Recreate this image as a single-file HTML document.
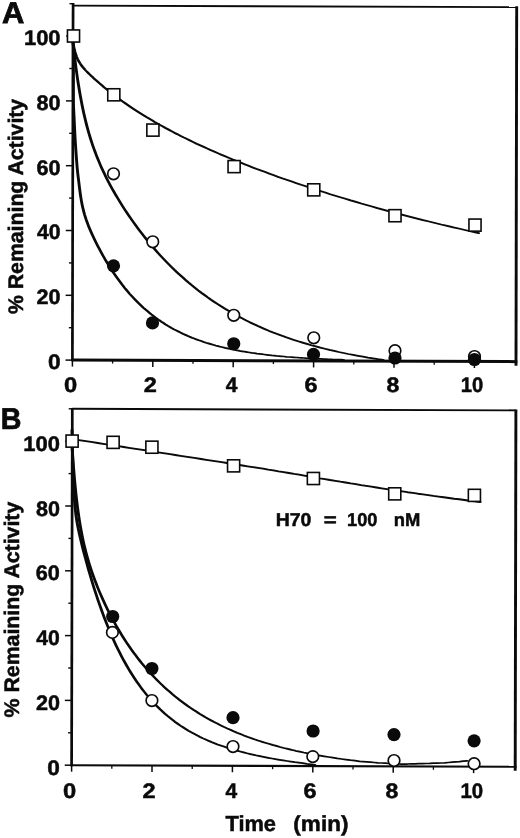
<!DOCTYPE html>
<html lang="en">
<head>
<meta charset="utf-8">
<title>Figure: % Remaining Activity vs Time</title>
<style>
html,body{margin:0;padding:0;background:#fff;}
body{width:520px;height:838px;overflow:hidden;}
svg{display:block;}
text{text-rendering:geometricPrecision;font-family:"Liberation Sans",Arial,Helvetica,sans-serif;font-weight:bold;fill:#0a0a0a;}
</style>
</head>
<body>
<svg width="520" height="838" viewBox="0 0 520 838">
<rect width="520" height="838" fill="#fff"/>
<g stroke="#0a0a0a" fill="none" stroke-linecap="butt">
<line x1="73.09" y1="3.10" x2="72.40" y2="361.10" stroke-width="2.7"/>
<line x1="71.40" y1="360.10" x2="517.30" y2="361.65" stroke-width="3.0"/>
<line x1="73.09" y1="5.60" x2="516.69" y2="7.15" stroke-width="1.8"/>
<line x1="516.69" y1="6.35" x2="516.00" y2="365.65" stroke-width="2.9"/>
<line x1="65.50" y1="360.10" x2="72.40" y2="360.10" stroke-width="1.5"/>
<line x1="68.86" y1="327.70" x2="72.46" y2="327.70" stroke-width="1.4"/>
<line x1="65.62" y1="295.30" x2="72.52" y2="295.30" stroke-width="1.5"/>
<line x1="68.99" y1="262.90" x2="72.59" y2="262.90" stroke-width="1.4"/>
<line x1="65.75" y1="230.50" x2="72.65" y2="230.50" stroke-width="1.5"/>
<line x1="69.11" y1="198.10" x2="72.71" y2="198.10" stroke-width="1.4"/>
<line x1="65.88" y1="165.70" x2="72.78" y2="165.70" stroke-width="1.5"/>
<line x1="69.24" y1="133.30" x2="72.84" y2="133.30" stroke-width="1.4"/>
<line x1="66.00" y1="100.90" x2="72.90" y2="100.90" stroke-width="1.5"/>
<line x1="69.37" y1="68.50" x2="72.97" y2="68.50" stroke-width="1.4"/>
<line x1="66.13" y1="36.10" x2="73.03" y2="36.10" stroke-width="1.5"/>
<line x1="69.49" y1="3.70" x2="73.09" y2="3.70" stroke-width="1.4"/>
<line x1="72.40" y1="360.10" x2="72.40" y2="366.60" stroke-width="1.5"/>
<line x1="112.60" y1="360.24" x2="112.60" y2="363.54" stroke-width="1.3"/>
<line x1="152.80" y1="360.38" x2="152.80" y2="366.88" stroke-width="1.5"/>
<line x1="193.00" y1="360.52" x2="193.00" y2="363.82" stroke-width="1.3"/>
<line x1="233.20" y1="360.66" x2="233.20" y2="367.16" stroke-width="1.5"/>
<line x1="273.40" y1="360.80" x2="273.40" y2="364.10" stroke-width="1.3"/>
<line x1="313.60" y1="360.94" x2="313.60" y2="367.44" stroke-width="1.5"/>
<line x1="353.80" y1="361.08" x2="353.80" y2="364.38" stroke-width="1.3"/>
<line x1="394.00" y1="361.23" x2="394.00" y2="367.73" stroke-width="1.5"/>
<line x1="434.20" y1="361.37" x2="434.20" y2="364.67" stroke-width="1.3"/>
<line x1="474.40" y1="361.51" x2="474.40" y2="368.01" stroke-width="1.5"/>
<line x1="72.30" y1="407.90" x2="71.61" y2="766.20" stroke-width="2.7"/>
<line x1="70.61" y1="765.20" x2="516.51" y2="766.75" stroke-width="2.1"/>
<line x1="72.30" y1="408.80" x2="515.90" y2="410.35" stroke-width="1.9"/>
<line x1="515.90" y1="409.55" x2="515.21" y2="770.75" stroke-width="2.9"/>
<line x1="64.71" y1="765.20" x2="71.61" y2="765.20" stroke-width="1.5"/>
<line x1="68.07" y1="732.80" x2="71.67" y2="732.80" stroke-width="1.4"/>
<line x1="64.83" y1="700.40" x2="71.73" y2="700.40" stroke-width="1.5"/>
<line x1="68.20" y1="668.00" x2="71.80" y2="668.00" stroke-width="1.4"/>
<line x1="64.96" y1="635.60" x2="71.86" y2="635.60" stroke-width="1.5"/>
<line x1="68.32" y1="603.20" x2="71.92" y2="603.20" stroke-width="1.4"/>
<line x1="65.09" y1="570.80" x2="71.99" y2="570.80" stroke-width="1.5"/>
<line x1="68.45" y1="538.40" x2="72.05" y2="538.40" stroke-width="1.4"/>
<line x1="65.21" y1="506.00" x2="72.11" y2="506.00" stroke-width="1.5"/>
<line x1="68.58" y1="473.60" x2="72.18" y2="473.60" stroke-width="1.4"/>
<line x1="65.34" y1="441.20" x2="72.24" y2="441.20" stroke-width="1.5"/>
<line x1="68.70" y1="408.80" x2="72.30" y2="408.80" stroke-width="1.4"/>
<line x1="71.61" y1="765.20" x2="71.61" y2="771.70" stroke-width="1.5"/>
<line x1="111.81" y1="765.34" x2="111.81" y2="768.64" stroke-width="1.3"/>
<line x1="152.01" y1="765.48" x2="152.01" y2="771.98" stroke-width="1.5"/>
<line x1="192.21" y1="765.62" x2="192.21" y2="768.92" stroke-width="1.3"/>
<line x1="232.41" y1="765.76" x2="232.41" y2="772.26" stroke-width="1.5"/>
<line x1="272.61" y1="765.90" x2="272.61" y2="769.20" stroke-width="1.3"/>
<line x1="312.81" y1="766.04" x2="312.81" y2="772.54" stroke-width="1.5"/>
<line x1="353.01" y1="766.18" x2="353.01" y2="769.48" stroke-width="1.3"/>
<line x1="393.21" y1="766.33" x2="393.21" y2="772.83" stroke-width="1.5"/>
<line x1="433.41" y1="766.47" x2="433.41" y2="769.77" stroke-width="1.3"/>
<line x1="473.61" y1="766.61" x2="473.61" y2="773.11" stroke-width="1.5"/>
</g>
<g stroke="#0a0a0a" fill="none" stroke-linecap="round" stroke-linejoin="round" transform="scale(1.65,1)">
<path d="M44.24,43.0 L44.25,43.1 L44.26,43.2 L44.30,43.5 L44.34,43.9 L44.41,44.5 L44.49,45.2 L44.59,46.0 L44.70,46.9 L44.84,47.9 L44.99,49.0 L45.17,50.2 L45.36,51.4 L45.58,52.6 L45.82,53.8 L46.08,55.1 L46.36,56.4 L46.66,57.6 L46.98,58.8 L47.33,60.0 L47.70,61.1 L48.09,62.2 L48.50,63.3 L48.94,64.4 L49.40,65.5 L49.88,66.5 L50.39,67.5 L50.93,68.5 L51.48,69.6 L52.06,70.6 L52.67,71.6 L53.30,72.7 L53.95,73.8 L54.64,74.9 L55.34,76.0 L56.07,77.1 L56.83,78.3 L57.61,79.4 L58.42,80.6 L59.25,81.8 L60.11,83.1 L61.00,84.3 L61.91,85.6 L62.85,86.9 L63.81,88.2 L64.80,89.5 L65.82,90.9 L66.87,92.3 L67.94,93.6 L69.04,95.0 L70.17,96.4 L71.32,97.8 L72.50,99.3 L73.71,100.7 L74.95,102.2 L76.22,103.6 L77.51,105.1 L78.83,106.6 L80.18,108.1 L81.56,109.6 L82.96,111.1 L84.40,112.6 L85.86,114.1 L87.35,115.6 L88.87,117.2 L90.42,118.7 L92.00,120.2 L93.60,121.8 L95.24,123.3 L96.90,124.9 L98.59,126.4 L100.32,128.0 L102.07,129.5 L103.85,131.1 L105.66,132.7 L107.50,134.2 L109.37,135.8 L111.27,137.4 L113.20,138.9 L115.16,140.5 L117.15,142.1 L119.17,143.7 L121.22,145.2 L123.31,146.8 L125.42,148.4 L127.56,150.0 L129.73,151.5 L131.93,153.1 L134.16,154.7 L136.43,156.3 L138.72,157.9 L141.05,159.5 L143.40,161.0 L145.79,162.6 L148.21,164.2 L150.65,165.8 L153.13,167.4 L155.65,169.0 L158.19,170.5 L160.76,172.1 L163.37,173.7 L166.00,175.3 L168.67,176.9 L171.37,178.5 L174.10,180.0 L176.86,181.6 L179.66,183.2 L182.49,184.8 L185.34,186.3 L188.23,187.9 L191.16,189.5 L194.11,191.0 L197.10,192.6 L200.12,194.2 L203.17,195.7 L206.25,197.3 L209.37,198.8 L212.51,200.4 L215.69,201.9 L218.91,203.5 L222.15,205.0 L225.43,206.5 L228.74,208.1 L232.08,209.6 L235.46,211.1 L238.87,212.6 L242.31,214.1 L245.79,215.6 L249.29,217.1 L252.83,218.6 L256.41,220.1 L260.02,221.5 L263.66,223.0 L267.33,224.5 L271.04,225.9 L274.78,227.4 L278.55,228.8 L282.36,230.2 L286.20,231.6 L290.07,233.1" stroke-width="1.75"/>
<path d="M44.24,42.6 L44.25,42.6 L44.26,42.9 L44.29,43.3 L44.33,43.9 L44.38,44.7 L44.45,45.7 L44.53,47.0 L44.63,48.5 L44.74,50.2 L44.88,52.1 L45.02,54.2 L45.19,56.5 L45.37,59.0 L45.57,61.6 L45.79,64.5 L46.02,67.5 L46.28,70.6 L46.55,73.8 L46.84,77.2 L47.15,80.6 L47.48,84.1 L47.83,87.7 L48.20,91.4 L48.59,95.0 L49.00,98.7 L49.42,102.4 L49.87,106.2 L50.34,109.9 L50.83,113.6 L51.34,117.2 L51.87,120.9 L52.42,124.5 L53.00,128.1 L53.59,131.6 L54.21,135.1 L54.84,138.5 L55.50,141.9 L56.18,145.3 L56.89,148.6 L57.61,151.8 L58.36,155.1 L59.12,158.3 L59.92,161.4 L60.73,164.6 L61.56,167.7 L62.42,170.8 L63.30,173.8 L64.21,176.9 L65.13,179.9 L66.08,182.9 L67.06,185.9 L68.05,188.9 L69.07,191.9 L70.11,194.9 L71.18,197.8 L72.27,200.8 L73.38,203.8 L74.52,206.7 L75.68,209.7 L76.86,212.6 L78.07,215.6 L79.30,218.5 L80.56,221.5 L81.84,224.4 L83.14,227.4 L84.47,230.3 L85.82,233.2 L87.20,236.1 L88.60,239.0 L90.03,241.9 L91.48,244.8 L92.96,247.6 L94.46,250.5 L95.98,253.3 L97.53,256.1 L99.11,258.9 L100.71,261.6 L102.34,264.4 L103.99,267.1 L105.66,269.8 L107.37,272.4 L109.09,275.0 L110.85,277.6 L112.62,280.2 L114.43,282.8 L116.26,285.3 L118.11,287.7 L119.99,290.2 L121.90,292.6 L123.83,294.9 L125.79,297.3 L127.78,299.6 L129.79,301.8 L131.82,304.0 L133.89,306.2 L135.98,308.3 L138.09,310.4 L140.23,312.5 L142.40,314.5 L144.59,316.5 L146.82,318.4 L149.06,320.3 L151.34,322.2 L153.64,324.0 L155.97,325.8 L158.32,327.5 L160.70,329.2 L163.11,330.9 L165.54,332.5 L168.01,334.0 L170.49,335.6 L173.01,337.1 L175.55,338.5 L178.12,339.9 L180.72,341.3 L183.35,342.6 L186.00,343.9 L188.68,345.2 L191.38,346.4 L194.12,347.6 L196.88,348.7 L199.67,349.9 L202.48,350.9 L205.33,352.0 L208.20,353.0 L211.10,354.0 L214.03,354.9 L216.98,355.8 L219.96,356.7 L222.98,357.6 L226.01,358.4 L229.08,359.2 L232.18,359.9" stroke-width="1.75"/>
<path d="M44.48,44.0 L44.48,46.5 L44.48,49.0 L44.48,51.4 L44.48,53.9 L44.48,56.4 L44.48,58.9 L44.48,61.4 L44.48,63.9 L44.48,66.3 L44.48,68.8 L44.48,71.3 L44.48,73.8 L44.48,76.3 L44.48,78.7 L44.48,81.2 L44.48,83.7 L44.48,86.2 L44.48,88.7 L44.48,91.2 L44.48,93.6 L44.48,96.1 L44.48,98.6 L44.49,101.1 L44.51,103.6 L44.56,106.0 L44.62,108.5 L44.69,111.0 L44.77,113.5 L44.85,115.9 L44.93,118.4 L44.99,120.9 L45.06,123.4 L45.13,125.9 L45.20,128.3 L45.28,130.8 L45.35,133.3 L45.43,135.8 L45.52,138.3 L45.60,140.7 L45.69,143.2 L45.79,145.7 L45.89,148.2 L45.99,150.6 L46.10,153.1 L46.21,155.6 L46.32,158.1 L46.43,160.5 L46.54,163.0 L46.66,165.5 L46.79,168.0 L46.93,170.4 L47.09,172.9 L47.26,175.4 L47.44,177.8 L47.63,180.3 L47.81,182.7 L48.00,185.2 L48.18,187.7 L48.36,190.1 L48.56,192.6 L48.77,195.1 L49.00,197.5 L49.24,200.0 L49.51,202.4 L49.80,204.8 L50.12,207.3 L50.47,209.7 L50.84,212.1 L51.24,214.5 L51.68,216.8 L52.14,219.2 L52.64,221.5 L53.16,223.9 L53.70,226.2 L54.27,228.5 L54.86,230.8 L55.46,233.0 L56.09,235.3 L56.72,237.5 L57.37,239.8 L58.03,242.0 L58.71,244.2 L59.39,246.4 L60.09,248.6 L60.80,250.8 L61.52,253.0 L62.25,255.2 L62.99,257.3 L63.75,259.5 L64.51,261.6 L65.29,263.7 L66.08,265.8 L66.89,267.9 L67.70,270.0 L68.53,272.1 L69.38,274.2 L70.23,276.2 L71.10,278.2 L71.99,280.2 L72.89,282.2 L73.80,284.2 L74.73,286.1 L75.67,288.1 L76.63,290.0 L77.60,291.9 L78.59,293.8 L79.59,295.6 L80.61,297.4 L81.64,299.2 L82.69,301.0 L83.76,302.8 L84.84,304.5 L85.93,306.2 L87.04,307.9 L88.17,309.5 L89.31,311.1 L90.47,312.7 L91.64,314.3 L92.83,315.8 L94.03,317.3 L95.24,318.7 L96.47,320.2 L97.72,321.6 L98.97,322.9 L100.24,324.3 L101.52,325.6 L102.82,326.8 L104.12,328.1 L105.44,329.3 L106.77,330.4 L108.11,331.5 L109.46,332.6 L110.81,333.7 L112.18,334.7 L113.56,335.8 L114.94,336.7 L116.33,337.7 L117.73,338.6 L119.14,339.4 L120.55,340.3 L121.97,341.1 L123.40,341.9 L124.83,342.7 L126.26,343.4 L127.70,344.1 L129.15,344.8 L130.60,345.5 L132.05,346.1 L133.51,346.7 L134.97,347.3 L136.43,347.9 L137.90,348.4 L139.37,349.0 L140.84,349.5 L142.32,350.0 L143.79,350.4 L145.27,350.9 L146.75,351.3 L148.24,351.7 L149.72,352.1 L151.21,352.5 L152.69,352.9 L154.18,353.2 L155.67,353.6 L157.16,353.9 L158.65,354.2 L160.15,354.5 L161.64,354.8 L163.13,355.1 L164.63,355.4 L166.12,355.6 L167.62,355.9 L169.12,356.1 L170.62,356.3 L172.11,356.5 L173.61,356.8 L175.11,357.0 L176.61,357.1 L178.11,357.3 L179.61,357.5 L181.11,357.7 L182.61,357.8 L184.11,358.0 L185.61,358.2 L187.11,358.3 L188.62,358.4 L190.12,358.6 L191.62,358.7 L193.12,358.8 L194.62,358.9 L196.13,359.1 L197.63,359.2 L199.13,359.3 L200.63,359.4 L202.14,359.5 L203.64,359.6 L205.14,359.6 L206.65,359.7 L208.15,359.8" stroke-width="1.75"/>
<path d="M43.64,439.0 L46.77,439.8 L49.90,440.6 L53.03,441.4 L56.16,442.2 L59.29,443.0 L62.42,443.8 L65.55,444.6 L68.68,445.4 L71.81,446.2 L74.94,447.0 L78.07,447.8 L81.20,448.6 L84.33,449.4 L87.46,450.2 L90.59,451.0 L93.72,451.8 L96.85,452.6 L99.98,453.4 L103.11,454.2 L106.24,455.0 L109.36,455.8 L112.49,456.6 L115.62,457.4 L118.75,458.2 L121.88,459.0 L125.01,459.8 L128.14,460.6 L131.27,461.4 L134.40,462.2 L137.53,463.0 L140.66,463.9 L143.79,464.7 L146.92,465.5 L150.05,466.3 L153.18,467.1 L156.30,467.9 L159.43,468.7 L162.56,469.6 L165.68,470.4 L168.81,471.3 L171.93,472.1 L175.06,473.0 L178.18,473.9 L181.30,474.7 L184.42,475.6 L187.54,476.5 L190.67,477.4 L193.79,478.3 L196.91,479.1 L200.04,480.0 L203.16,480.8 L206.29,481.7 L209.41,482.5 L212.54,483.4 L215.66,484.2 L218.79,485.1 L221.92,485.9 L225.05,486.7 L228.17,487.5 L231.30,488.3 L234.44,489.1 L237.57,489.9 L240.70,490.7 L243.83,491.4 L246.97,492.2 L250.10,492.9 L253.24,493.7 L256.37,494.4 L259.51,495.1 L262.64,495.9 L265.78,496.6 L268.92,497.3 L272.06,498.0 L275.20,498.7 L278.34,499.3 L281.48,500.0 L284.62,500.7 L287.77,501.3 L290.91,502.0" stroke-width="1.9"/>
<path d="M43.64,445.4 L43.64,445.5 L43.65,445.9 L43.67,446.4 L43.71,447.3 L43.75,448.5 L43.81,449.9 L43.88,451.7 L43.96,453.7 L44.06,456.0 L44.17,458.6 L44.29,461.4 L44.43,464.5 L44.58,467.8 L44.75,471.3 L44.94,474.9 L45.13,478.7 L45.35,482.6 L45.58,486.6 L45.82,490.6 L46.08,494.7 L46.36,498.8 L46.65,502.9 L46.96,507.0 L47.29,511.1 L47.63,515.1 L48.00,519.1 L48.37,523.0 L48.77,526.9 L49.18,530.7 L49.61,534.4 L50.05,538.0 L50.52,541.6 L51.00,545.1 L51.50,548.5 L52.02,551.9 L52.55,555.2 L53.11,558.5 L53.68,561.7 L54.27,564.9 L54.88,568.0 L55.51,571.1 L56.16,574.2 L56.82,577.3 L57.50,580.3 L58.21,583.3 L58.93,586.4 L59.67,589.4 L60.43,592.4 L61.21,595.3 L62.01,598.3 L62.83,601.3 L63.66,604.3 L64.52,607.2 L65.40,610.2 L66.29,613.1 L67.21,616.0 L68.15,618.9 L69.10,621.8 L70.08,624.7 L71.07,627.6 L72.09,630.4 L73.13,633.3 L74.18,636.1 L75.26,638.9 L76.36,641.7 L77.47,644.4 L78.61,647.2 L79.77,649.9 L80.95,652.6 L82.15,655.2 L83.37,657.9 L84.61,660.5 L85.88,663.1 L87.16,665.6 L88.46,668.1 L89.79,670.6 L91.14,673.1 L92.50,675.5 L93.89,677.9 L95.30,680.3 L96.73,682.6 L98.19,684.9 L99.66,687.2 L101.16,689.4 L102.68,691.6 L104.21,693.8 L105.77,695.9 L107.36,698.0 L108.96,700.1 L110.59,702.1 L112.23,704.1 L113.90,706.1 L115.59,708.0 L117.31,709.9 L119.04,711.7 L120.80,713.6 L122.58,715.3 L124.38,717.1 L126.20,718.8 L128.05,720.5 L129.92,722.1 L131.81,723.7 L133.72,725.3 L135.66,726.9 L137.62,728.4 L139.60,729.8 L141.60,731.3 L143.62,732.7 L145.67,734.0 L147.74,735.4 L149.84,736.7 L151.95,737.9 L154.09,739.2 L156.25,740.4 L158.44,741.6 L160.65,742.7 L162.88,743.8 L165.13,744.9 L167.41,745.9 L169.71,747.0 L172.03,748.0 L174.38,748.9 L176.75,749.9 L179.14,750.8 L181.55,751.6 L183.99,752.5 L186.45,753.3 L188.94,754.1 L191.45,754.9 L193.98,755.6 L196.54,756.3 L199.12,757.0 L201.72,757.7 L204.35,758.4 L207.00,759.0 L209.67,759.6 L212.37,760.2 L215.09,760.7 L217.84,761.3 L217.82,761.3 L220.06,761.6 L222.31,761.9 L224.55,762.2 L226.80,762.5 L229.05,762.8 L231.30,763.0 L233.54,763.2 L235.79,763.5 L238.04,763.7 L240.29,763.9 L242.54,764.0 L244.79,764.0 L247.05,764.0 L249.30,763.9 L251.55,763.8 L253.81,763.7 L256.06,763.6 L258.31,763.5 L260.56,763.4 L262.81,763.2 L265.07,763.1 L267.31,763.0 L269.56,762.8 L271.81,762.5 L274.05,762.2 L276.30,761.9 L278.54,761.6 L280.79,761.2 L283.03,760.8" stroke-width="1.75"/>
<path d="M43.64,429.9 L43.64,430.2 L43.65,431.2 L43.67,433.1 L43.71,435.9 L43.75,439.5 L43.81,443.9 L43.87,448.9 L43.96,454.3 L44.05,460.2 L44.16,466.2 L44.28,472.3 L44.42,478.2 L44.57,484.0 L44.73,489.5 L44.91,494.7 L45.10,499.4 L45.31,503.9 L45.54,507.9 L45.78,511.6 L46.03,515.1 L46.30,518.3 L46.59,521.3 L46.89,524.2 L47.21,527.0 L47.55,529.7 L47.90,532.5 L48.27,535.2 L48.66,537.9 L49.06,540.7 L49.48,543.6 L49.92,546.5 L50.37,549.5 L50.85,552.5 L51.34,555.6 L51.84,558.7 L52.37,561.9 L52.91,565.2 L53.47,568.5 L54.05,571.8 L54.65,575.2 L55.26,578.6 L55.89,582.1 L56.54,585.6 L57.21,589.1 L57.90,592.6 L58.61,596.2 L59.33,599.8 L60.08,603.4 L60.84,606.9 L61.62,610.5 L62.42,614.1 L63.24,617.7 L64.08,621.3 L64.94,624.9 L65.82,628.4 L66.72,632.0 L67.63,635.5 L68.57,639.0 L69.52,642.4 L70.50,645.9 L71.49,649.2 L72.51,652.6 L73.54,655.9 L74.60,659.2 L75.67,662.4 L76.77,665.6 L77.88,668.8 L79.01,671.9 L80.17,674.9 L81.34,677.9 L82.54,680.8 L83.75,683.7 L84.99,686.5 L86.25,689.3 L87.52,692.0 L88.82,694.7 L90.14,697.2 L91.48,699.8 L92.84,702.2 L94.22,704.7 L95.62,707.0 L97.04,709.3 L98.49,711.5 L99.95,713.7 L101.44,715.8 L102.94,717.8 L104.47,719.8 L106.02,721.8 L107.59,723.6 L109.18,725.5 L110.79,727.2 L112.43,728.9 L114.08,730.6 L115.76,732.2 L117.46,733.7 L119.18,735.2 L120.92,736.7 L122.69,738.1 L124.47,739.4 L126.28,740.7 L128.11,742.0 L129.96,743.2 L131.83,744.4 L133.73,745.5 L135.64,746.6 L137.58,747.7 L139.54,748.7 L141.53,749.7 L143.53,750.6 L145.56,751.5 L147.61,752.4 L149.68,753.3 L151.77,754.1 L153.89,754.9 L156.03,755.7 L158.19,756.4 L160.38,757.1 L162.58,757.8 L164.81,758.5 L167.06,759.2 L169.34,759.8 L171.63,760.4 L173.95,761.0 L176.29,761.6 L178.66,762.2 L181.05,762.7 L183.46,763.2 L185.89,763.8 L188.35,764.3 L190.83,764.8" stroke-width="1.75"/>
</g>
<g stroke="#0a0a0a">
<rect x="67.45" y="29.95" width="12.1" height="12.1" fill="#fff" stroke-width="1.6"/>
<rect x="107.75" y="88.75" width="12.1" height="12.1" fill="#fff" stroke-width="1.6"/>
<rect x="146.85" y="124.05" width="12.1" height="12.1" fill="#fff" stroke-width="1.6"/>
<rect x="228.05" y="160.55" width="12.1" height="12.1" fill="#fff" stroke-width="1.6"/>
<rect x="307.70" y="183.80" width="12.1" height="12.1" fill="#fff" stroke-width="1.6"/>
<rect x="388.95" y="209.65" width="12.1" height="12.1" fill="#fff" stroke-width="1.6"/>
<rect x="468.95" y="219.05" width="12.1" height="12.1" fill="#fff" stroke-width="1.6"/>
<rect x="66.05" y="435.05" width="12.1" height="12.1" fill="#fff" stroke-width="1.6"/>
<rect x="107.05" y="436.30" width="12.1" height="12.1" fill="#fff" stroke-width="1.6"/>
<rect x="145.85" y="441.15" width="12.1" height="12.1" fill="#fff" stroke-width="1.6"/>
<rect x="227.55" y="459.80" width="12.1" height="12.1" fill="#fff" stroke-width="1.6"/>
<rect x="307.35" y="472.45" width="12.1" height="12.1" fill="#fff" stroke-width="1.6"/>
<rect x="388.70" y="487.80" width="12.1" height="12.1" fill="#fff" stroke-width="1.6"/>
<rect x="468.35" y="489.30" width="12.1" height="12.1" fill="#fff" stroke-width="1.6"/>
<circle cx="113.50" cy="173.75" r="5.8" fill="#fff" stroke-width="1.65"/>
<circle cx="152.75" cy="241.75" r="5.8" fill="#fff" stroke-width="1.65"/>
<circle cx="233.75" cy="315.25" r="5.8" fill="#fff" stroke-width="1.65"/>
<circle cx="313.75" cy="337.75" r="5.8" fill="#fff" stroke-width="1.65"/>
<circle cx="395.00" cy="350.70" r="5.8" fill="#fff" stroke-width="1.65"/>
<circle cx="474.50" cy="356.50" r="5.8" fill="#fff" stroke-width="1.65"/>
<circle cx="112.40" cy="632.40" r="5.8" fill="#fff" stroke-width="1.65"/>
<circle cx="151.90" cy="700.50" r="5.8" fill="#fff" stroke-width="1.65"/>
<circle cx="233.00" cy="746.50" r="5.8" fill="#fff" stroke-width="1.65"/>
<circle cx="312.80" cy="756.60" r="5.8" fill="#fff" stroke-width="1.65"/>
<circle cx="394.00" cy="760.50" r="5.8" fill="#fff" stroke-width="1.65"/>
<circle cx="474.10" cy="763.70" r="5.8" fill="#fff" stroke-width="1.65"/>
<circle cx="113.50" cy="265.80" r="6.6" fill="#0a0a0a" stroke="none"/>
<circle cx="152.50" cy="322.90" r="6.6" fill="#0a0a0a" stroke="none"/>
<circle cx="233.75" cy="343.75" r="6.6" fill="#0a0a0a" stroke="none"/>
<circle cx="313.50" cy="354.40" r="6.6" fill="#0a0a0a" stroke="none"/>
<circle cx="395.00" cy="358.00" r="6.6" fill="#0a0a0a" stroke="none"/>
<circle cx="474.50" cy="359.50" r="6.6" fill="#0a0a0a" stroke="none"/>
<circle cx="112.70" cy="616.50" r="6.6" fill="#0a0a0a" stroke="none"/>
<circle cx="151.90" cy="668.50" r="6.6" fill="#0a0a0a" stroke="none"/>
<circle cx="233.00" cy="717.70" r="6.6" fill="#0a0a0a" stroke="none"/>
<circle cx="313.10" cy="731.00" r="6.6" fill="#0a0a0a" stroke="none"/>
<circle cx="394.00" cy="734.60" r="6.6" fill="#0a0a0a" stroke="none"/>
<circle cx="474.10" cy="740.80" r="6.6" fill="#0a0a0a" stroke="none"/>
</g>
<g>
<text transform="translate(48.04,369.00) scale(1.0800,1)" font-size="21" stroke="#0a0a0a" stroke-width="0.5">0</text>
<text transform="translate(36.58,304.20) scale(1.0275,1)" font-size="21" stroke="#0a0a0a" stroke-width="0.5">20</text>
<text transform="translate(37.00,239.40) scale(1.0090,1)" font-size="21" stroke="#0a0a0a" stroke-width="0.5">40</text>
<text transform="translate(36.47,174.60) scale(1.0323,1)" font-size="21" stroke="#0a0a0a" stroke-width="0.5">60</text>
<text transform="translate(36.58,109.80) scale(1.0275,1)" font-size="21" stroke="#0a0a0a" stroke-width="0.5">80</text>
<text transform="translate(23.94,45.00) scale(1.0456,1)" font-size="21" stroke="#0a0a0a" stroke-width="0.5">100</text>
<text transform="translate(47.34,774.80) scale(1.0800,1)" font-size="21" stroke="#0a0a0a" stroke-width="0.5">0</text>
<text transform="translate(35.88,710.00) scale(1.0275,1)" font-size="21" stroke="#0a0a0a" stroke-width="0.5">20</text>
<text transform="translate(36.30,645.20) scale(1.0090,1)" font-size="21" stroke="#0a0a0a" stroke-width="0.5">40</text>
<text transform="translate(35.77,580.40) scale(1.0323,1)" font-size="21" stroke="#0a0a0a" stroke-width="0.5">60</text>
<text transform="translate(35.88,515.60) scale(1.0275,1)" font-size="21" stroke="#0a0a0a" stroke-width="0.5">80</text>
<text transform="translate(23.24,450.80) scale(1.0456,1)" font-size="21" stroke="#0a0a0a" stroke-width="0.5">100</text>
<text transform="translate(64.05,392.10) scale(1.1300,1)" font-size="21" stroke="#0a0a0a" stroke-width="0.5">0</text>
<text transform="translate(143.67,392.10) scale(1.1188,1)" font-size="21" stroke="#0a0a0a" stroke-width="0.5">2</text>
<text transform="translate(225.65,392.10) scale(1.0000,1)" font-size="21" stroke="#0a0a0a" stroke-width="0.5">4</text>
<text transform="translate(304.55,392.10) scale(1.1188,1)" font-size="21" stroke="#0a0a0a" stroke-width="0.5">6</text>
<text transform="translate(386.58,392.10) scale(1.0971,1)" font-size="21" stroke="#0a0a0a" stroke-width="0.5">8</text>
<text transform="translate(460.85,392.10) scale(0.9623,1)" font-size="21" stroke="#0a0a0a" stroke-width="0.5">10</text>
<text transform="translate(62.95,798.40) scale(1.1300,1)" font-size="21" stroke="#0a0a0a" stroke-width="0.5">0</text>
<text transform="translate(142.57,798.40) scale(1.1188,1)" font-size="21" stroke="#0a0a0a" stroke-width="0.5">2</text>
<text transform="translate(225.55,798.40) scale(1.0000,1)" font-size="21" stroke="#0a0a0a" stroke-width="0.5">4</text>
<text transform="translate(303.45,798.40) scale(1.1188,1)" font-size="21" stroke="#0a0a0a" stroke-width="0.5">6</text>
<text transform="translate(385.58,798.40) scale(1.0971,1)" font-size="21" stroke="#0a0a0a" stroke-width="0.5">8</text>
<text transform="translate(460.44,798.40) scale(0.9717,1)" font-size="21" stroke="#0a0a0a" stroke-width="0.5">10</text>
<text transform="translate(2.08,23.20) scale(1.0299,1)" font-size="30" stroke="#0a0a0a" stroke-width="0.8">A</text>
<text transform="translate(0.69,428.70) scale(0.9563,1)" font-size="30" stroke="#0a0a0a" stroke-width="0.7">B</text>
<text transform="translate(23.10,314.01) rotate(-90) scale(1.0113,1)" font-size="21" stroke="#0a0a0a" stroke-width="0.5">% Remaining Activity</text>
<text transform="translate(18.80,717.41) rotate(-90) scale(1.0137,1)" font-size="21" stroke="#0a0a0a" stroke-width="0.5">% Remaining Activity</text>
<text transform="translate(225.50,831.20) scale(1.0000,1)" font-size="21.8" stroke="#0a0a0a" stroke-width="0.5">Time</text>
<text transform="translate(293.36,831.20) scale(1.0333,1)" font-size="21.8" stroke="#0a0a0a" stroke-width="0.5">(min)</text>
<text transform="translate(275.74,526.20) scale(1.0466,1)" font-size="18.6" stroke="#0a0a0a" stroke-width="0.5">H70</text>
<text transform="translate(323.75,526.20) scale(1.1935,1)" font-size="18.6" stroke="#0a0a0a" stroke-width="0.5">=</text>
<text transform="translate(347.02,526.20) scale(0.9794,1)" font-size="18.6" stroke="#0a0a0a" stroke-width="0.5">100</text>
<text transform="translate(393.81,526.20) scale(0.9878,1)" font-size="18.6" stroke="#0a0a0a" stroke-width="0.5">nM</text>
</g>
</svg>
</body>
</html>
